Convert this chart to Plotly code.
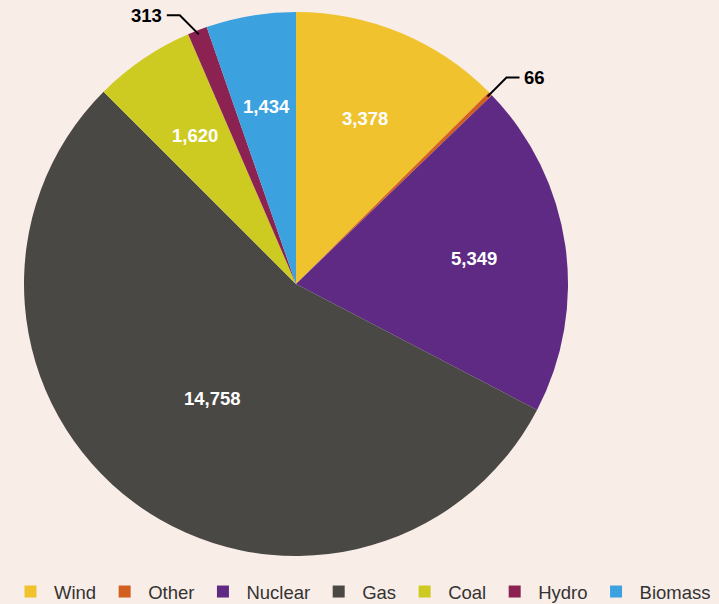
import math
import plotly.graph_objects as go

labels = ["Wind", "Other", "Nuclear", "Gas", "Coal", "Hydro", "Biomass"]
values = [3378, 66, 5349, 14758, 1620, 313, 1434]
colors = ["#F0C22E", "#D35F1F", "#5E2A83", "#4A4845", "#CDCB22", "#8B2252", "#3BA1DF"]
outside = ["Other", "Hydro"]

W, H = 719, 604
cx, cy, R = 296, 284, 272

fig = go.Figure(go.Pie(
    labels=labels, values=values, sort=False, direction="clockwise", rotation=0,
    marker=dict(colors=colors, line=dict(width=0)),
    textinfo="none",
    hoverinfo="label+value",
    domain=dict(x=[(cx - R) / W, (cx + R) / W], y=[(H - cy - R) / H, (H - cy + R) / H]),
))

def px(x, y):
    return x / W, 1 - y / H

total = sum(values)
cum = 0
shapes = []
annotations = []
for l, v in zip(labels, values):
    frac = v / total
    mid = (cum + v / 2) / total * 2 * math.pi
    cum += v
    s, c = math.sin(mid), math.cos(mid)
    if l not in outside:
        rr = 0.66 * R if frac < 0.5 else 0.52 * R
        tx, ty = px(cx + rr * s, cy - rr * c)
        annotations.append(dict(xref="paper", yref="paper", x=tx, y=ty,
                                text=f"<b>{v:,}</b>", showarrow=False,
                                xanchor="center", yanchor="middle",
                                font=dict(size=18.5, color="white", family="Liberation Sans")))
        continue
    side = 1 if s > 0 else -1
    vert = -1 if c > 0 else 1
    sx, sy = cx + 0.985 * R * s, cy - 0.985 * R * c
    ex, ey = sx + side * 19, sy + vert * 19
    hx = ex + side * 13
    x0, y0 = px(sx, sy)
    x1, y1 = px(ex, ey)
    x2, y2 = px(hx, ey)
    shapes.append(dict(type="path", xref="paper", yref="paper",
                       path=f"M{x0},{y0} L{x1},{y1} L{x2},{y2}",
                       line=dict(color="black", width=2)))
    annotations.append(dict(xref="paper", yref="paper", x=x2 + side * 3 / W, y=y2,
                            text=f"<b>{v:,}</b>", showarrow=False,
                            xanchor="left" if side > 0 else "right", yanchor="middle",
                            font=dict(size=18.5, color="black", family="Liberation Sans")))

fig.update_layout(
    width=W, height=H, margin=dict(l=0, r=0, t=0, b=0, autoexpand=False),
    paper_bgcolor="#F9EDE7", plot_bgcolor="#F9EDE7",
    shapes=shapes, annotations=annotations,
    showlegend=True,
    legend=dict(orientation="h", xref="container", yref="container",
                x=7 / W, xanchor="left", y=1 - 592 / H, yanchor="middle",
                font=dict(size=18.5, color="#333333", family="Liberation Sans"),
                itemwidth=37, bgcolor="rgba(0,0,0,0)", traceorder="normal"),
)
fig.write_html("out.html")
